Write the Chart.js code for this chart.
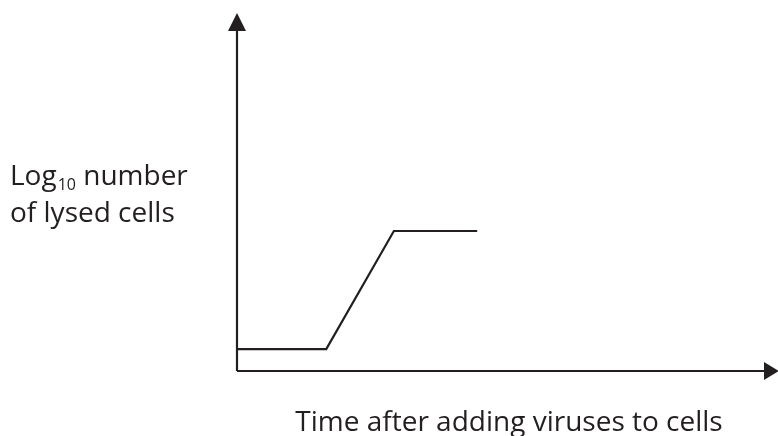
<!DOCTYPE html>
<html>
<head>
<meta charset="utf-8">
<script src="https://cdn.jsdelivr.net/npm/chart.js@4/dist/chart.umd.min.js"></script>
<style>
  html, body { margin: 0; padding: 0; background: #fff; }
  #wrap { width: 778px; height: 436px; position: relative; }
</style>
</head>
<body>
<div id="wrap"><canvas id="growth-chart"></canvas></div>
<script>
// time after adding viruses (arbitrary units) and log10 lysed cells (arbitrary units)
let timePoints = [0, 16.5, 29, 44.4],
  lysedLog = [6.1, 6.1, 39.1, 39.1],
  xTitle = 'Time after adding viruses to cells',
  yTitleLine1 = ['Log', '10', ' number'],
  yTitleLine2 = 'of lysed cells';

const ink = '#231f20';
const fontFam = '"Open Sans", "Noto Sans", sans-serif';

// axes with arrow heads + titles, drawn after the dataset
const axesPlugin = {
  id: 'arrowAxes',
  afterDraw(chart) {
    const c = chart.ctx, a = chart.chartArea;
    const x0 = chart.scales.x.getPixelForValue(0);
    const y0 = chart.scales.y.getPixelForValue(0);
    c.save();
    c.strokeStyle = ink;
    c.fillStyle = ink;
    c.lineWidth = 2.2;
    c.beginPath();
    c.moveTo(x0, y0);
    c.lineTo(x0, a.top + 14);
    c.moveTo(x0, y0);
    c.lineTo(a.right - 12, y0);
    c.stroke();
    // up arrow
    c.beginPath();
    c.moveTo(x0, a.top);
    c.lineTo(x0 - 9, a.top + 18);
    c.lineTo(x0 + 9, a.top + 18);
    c.closePath();
    c.fill();
    // right arrow
    c.beginPath();
    c.moveTo(a.right + 1, y0);
    c.lineTo(a.right - 14, y0 - 9);
    c.lineTo(a.right - 14, y0 + 9);
    c.closePath();
    c.fill();

    // titles
    c.textBaseline = 'alphabetic';
    c.font = '28px ' + fontFam;
    c.textAlign = 'center';
    c.fillText(xTitle, 509, 431);

    c.textAlign = 'left';
    let px = 10;
    c.font = '28px ' + fontFam;
    c.fillText(yTitleLine1[0], px, 185);
    px += c.measureText(yTitleLine1[0]).width;
    c.font = '16px ' + fontFam;
    c.fillText(yTitleLine1[1], px + 1, 190);
    px += c.measureText(yTitleLine1[1]).width + 1;
    c.font = '28px ' + fontFam;
    c.fillText(yTitleLine1[2], px, 185);
    c.fillText(yTitleLine2, 10, 222);
    c.restore();
  }
};

let ctx = document.getElementById('growth-chart'),
  myChart = new Chart(ctx, {
    type: 'line',
    data: {
      datasets: [{
        data: timePoints.map((t, i) => ({ x: t, y: lysedLog[i] })),
        borderColor: ink,
        borderWidth: 2.2,
        pointRadius: 0,
        fill: false,
        tension: 0
      }]
    },
    options: {
      responsive: true,
      maintainAspectRatio: false,
      animation: false,
      layout: { padding: { left: 237, top: 13, right: 0, bottom: 65 } },
      plugins: { legend: { display: false }, tooltip: { enabled: false } },
      scales: {
        x: { type: 'linear', min: 0, max: 100, display: false },
        y: { type: 'linear', min: 0, max: 100, display: false }
      }
    },
    plugins: [axesPlugin]
  });
</script>
</body>
</html>
